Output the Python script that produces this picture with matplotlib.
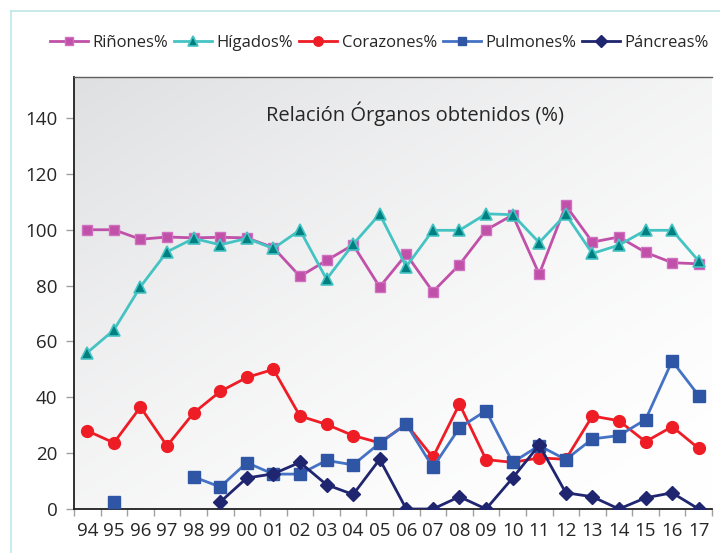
import numpy as np
import matplotlib
matplotlib.use("Agg")
import matplotlib.pyplot as plt
from matplotlib.lines import Line2D

plt.rcParams['font.family'] = ['Open Sans', 'DejaVu Sans']

years = ["94", "95", "96", "97", "98", "99", "00", "01", "02", "03", "04", "05",
         "06", "07", "08", "09", "10", "11", "12", "13", "14", "15", "16", "17"]
nan = np.nan
rinones = [100, 100, 96.6, 97.4, 97.1, 97.3, 97.1, 93.6, 83.3, 89.0, 94.6, 79.5,
           91.2, 77.8, 87.5, 99.9, 105.3, 84.1, 108.7, 95.6, 97.4, 91.9, 88.2, 87.8]
higados = [56.0, 64.1, 79.6, 92.1, 96.9, 94.6, 96.9, 93.3, 99.9, 82.3, 94.8, 105.6,
           86.8, 99.8, 99.8, 105.7, 105.4, 95.4, 105.5, 91.5, 94.5, 99.8, 99.8, 88.8]
corazones = [28.0, 23.7, 36.5, 22.6, 34.4, 42.1, 47.1, 50.0, 33.3, 30.3, 26.3, 23.7,
             30.4, 18.5, 37.6, 17.7, 16.7, 18.3, 17.8, 33.3, 31.6, 24.1, 29.5, 21.7]
pulmones = [nan, 2.4, nan, nan, 11.5, 7.9, 16.6, 12.5, 12.5, 17.4, 15.8, 23.6,
            30.4, 14.9, 29.1, 35.2, 16.7, 22.7, 17.7, 25.1, 26.3, 32.0, 53.0, 40.6]
pancreas = [nan, nan, nan, nan, nan, 2.5, 11.1, 12.6, 16.7, 8.7, 5.2, 17.8,
            0, 0, 4.4, 0, 11.1, 22.9, 5.8, 4.4, 0, 4.0, 5.8, 0]
series_names = ["Riñones%", "Hígados%", "Corazones%", "Pulmones%", "Páncreas%"]
yticks = [0, 20, 40, 60, 80, 100, 120, 140]

fig = plt.figure(figsize=(7.2, 5.53), dpi=100)
fig.patch.set_facecolor('white')

# outer frame (light cyan)
fig.add_artist(Line2D([11/720, 11/720], [0, 1 - 11/553], color='#bfe6e8', lw=1.2))
fig.add_artist(Line2D([11/720, 1], [1 - 11/553, 1 - 11/553], color='#bfe6e8', lw=1.2))

ax = fig.add_axes([74/720, 44/553, 638/720, 432/553])
x = np.arange(len(years))
ax.set_xlim(-0.5, len(years) - 0.5)
ax.set_ylim(0, 154.7)

# gradient background: grey at top-left fading to white at bottom-right
ny, nx = 100, 100
gx = np.linspace(0, 1, nx)[None, :]
gy = np.linspace(0, 1, ny)[:, None]
u = np.clip((1 - gx) * 0.55 + gy * 0.6, 0, 1.15) / 1.15
w = u ** 1.6
top = np.array([0.875, 0.878, 0.886])
bot = np.array([1.0, 1.0, 1.0])
img = bot[None, None, :] * (1 - w[..., None]) + top[None, None, :] * w[..., None]
ax.imshow(img, extent=[0, 1, 0, 1], transform=ax.transAxes, origin='lower',
          aspect='auto', zorder=0, interpolation='bicubic')

ax.plot(x, rinones, color='#c050a8', lw=2, marker='s', ms=7, mfc='#c050a8',
        mec='#d070c0', label=series_names[0], zorder=3)
ax.plot(x, higados, color='#45c3c3', lw=2, marker='^', ms=9, mfc='#007f80',
        mec='#45c3c3', mew=1.2, label=series_names[1], zorder=3)
ax.plot(x, corazones, color='#ee1c25', lw=2, marker='o', ms=8.5, mfc='#ee1c25',
        mec='#ee1c25', label=series_names[2], zorder=3)
ax.plot(x, pulmones, color='#4472c4', lw=2, marker='s', ms=8, mfc='#2f55a5',
        mec='#2f55a5', label=series_names[3], zorder=3)
ax.plot(x, pancreas, color='#202570', lw=2, marker='D', ms=7.5, mfc='#202570',
        mec='#202570', label=series_names[4], zorder=4)

ax.set_yticks(yticks)
ax.set_yticklabels([str(v) for v in yticks])
ax.set_xticks(x)
ax.set_xticklabels(years)
ax.set_xticks(np.arange(-0.5, len(years)), minor=True)
ax.tick_params(axis='x', which='major', length=0, pad=9, labelsize=13.5, labelcolor='#262626')
ax.tick_params(axis='x', which='minor', length=5, color='#a0a0a0', width=1)
ax.tick_params(axis='y', length=6, color='#a0a0a0', width=1, pad=6,
               labelsize=13.5, labelcolor='#262626')

for s in ['left', 'bottom']:
    ax.spines[s].set_color('#202020')
    ax.spines[s].set_linewidth(1.3)
ax.spines['top'].set_color('#606060')
ax.spines['top'].set_linewidth(1)
ax.spines['right'].set_visible(False)

ax.text(0.535, 0.914, "Relación Órganos obtenidos (%)", transform=ax.transAxes,
        ha='center', va='center', fontsize=14.5, color='#262626')

leg = fig.legend(loc='center', bbox_to_anchor=(0.527, 1 - 43/553), ncol=5, frameon=False,
                 fontsize=12, handlelength=2.3, handletextpad=0.25, columnspacing=0.35,
                 markerscale=0.8)
for txt in leg.get_texts():
    txt.set_color('#262626')

fig.savefig('out.png', dpi=100)
